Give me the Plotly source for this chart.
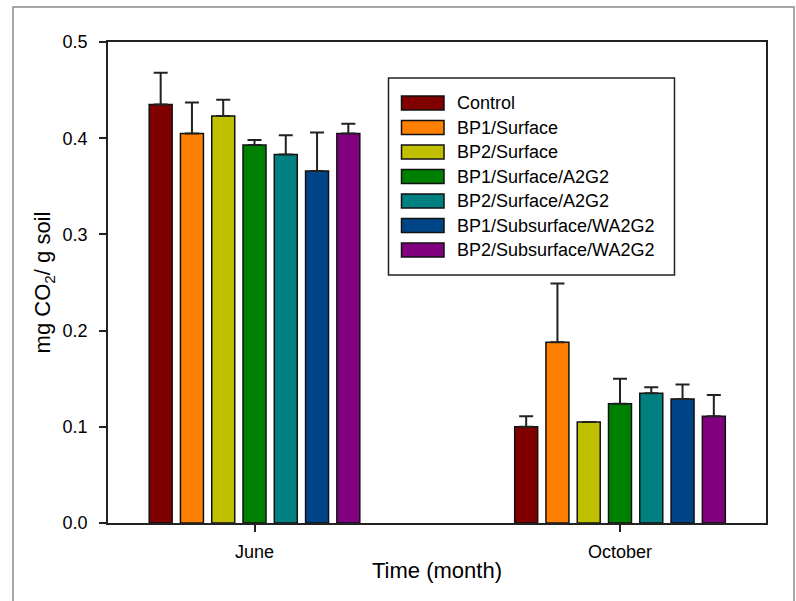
import plotly.graph_objects as go

# ---- data ----
months = ["June", "October"]
month_pos = [0, 1]
series_names = ["Control", "BP1/Surface", "BP2/Surface", "BP1/Surface/A2G2",
                "BP2/Surface/A2G2", "BP1/Subsurface/WA2G2", "BP2/Subsurface/WA2G2"]
control = [0.435, 0.100]
bp1_surface = [0.405, 0.188]
bp2_surface = [0.423, 0.105]
bp1_surface_a2g2 = [0.393, 0.124]
bp2_surface_a2g2 = [0.383, 0.135]
bp1_subsurface_wa2g2 = [0.366, 0.129]
bp2_subsurface_wa2g2 = [0.405, 0.111]
control_err = [0.033, 0.011]
bp1_surface_err = [0.032, 0.061]
bp2_surface_err = [0.017, 0.0]
bp1_surface_a2g2_err = [0.005, 0.026]
bp2_surface_a2g2_err = [0.020, 0.006]
bp1_subsurface_wa2g2_err = [0.040, 0.015]
bp2_subsurface_wa2g2_err = [0.010, 0.022]
y_ticks = [0.0, 0.1, 0.2, 0.3, 0.4, 0.5]

values = [control, bp1_surface, bp2_surface, bp1_surface_a2g2,
          bp2_surface_a2g2, bp1_subsurface_wa2g2, bp2_subsurface_wa2g2]
errors = [control_err, bp1_surface_err, bp2_surface_err, bp1_surface_a2g2_err,
          bp2_surface_a2g2_err, bp1_subsurface_wa2g2_err, bp2_subsurface_wa2g2_err]
colors = ["#800000", "#FF8000", "#C0C000", "#008000", "#008080", "#004488", "#800080"]

FONT = "Arial, Liberation Sans, sans-serif"
W, H = 796, 601
# plot area in page pixels: x 108..766, y 42..523
PL, PR, PT, PB = 108, 766, 42, 523
ML, MT = PL, PT
MR = W - PR
MB = H - PB
PW, PH = PR - PL, PB - PT
X0_PX, UNIT_PX = 254.5, 365.5  # pixel of first category centre, pixels per category

def px_x(px):
    return (px - PL) / PW

def px_y(py):
    return (PB - py) / PH

fig = go.Figure()
for name, vals, err, col in zip(series_names, values, errors, colors):
    fig.add_trace(go.Bar(
        x=month_pos, y=vals, name=name,
        marker=dict(color=col, line=dict(color="#111111", width=1.5)),
        error_y=dict(type="data", symmetric=False,
                     array=[e if e > 0 else None for e in err],
                     arrayminus=[0] * len(err),
                     color="#222222", thickness=2, width=7),
        showlegend=False,
    ))

# ---- manual legend with wide swatches ----
leg_left, leg_top, leg_right, leg_bottom = 388.5, 78, 674.5, 275
row0, row_step = 103, 24.5
fig.add_shape(type="rect", xref="paper", yref="paper",
              x0=px_x(leg_left), x1=px_x(leg_right),
              y0=px_y(leg_bottom), y1=px_y(leg_top),
              line=dict(color="#222222", width=1.5), fillcolor="white", layer="above")
for i, (name, col) in enumerate(zip(series_names, colors)):
    cy = row0 + row_step * i
    fig.add_shape(type="rect", xref="paper", yref="paper",
                  x0=px_x(401.5), x1=px_x(444),
                  y0=px_y(cy + 7), y1=px_y(cy - 7),
                  line=dict(color="#111111", width=1.5), fillcolor=col, layer="above")
    fig.add_annotation(xref="paper", yref="paper", x=px_x(455), y=px_y(cy),
                       text=name, showarrow=False, xanchor="left", yanchor="middle",
                       font=dict(family=FONT, size=18, color="black"))

# ---- outer frame ----
fig.add_shape(type="rect", xref="paper", yref="paper",
              x0=px_x(13), x1=px_x(794), y0=px_y(620), y1=px_y(7),
              line=dict(color="#8a8a8a", width=1.5), layer="below")

fig.update_layout(
    width=W, height=H,
    margin=dict(l=ML, r=MR, t=MT, b=MB, pad=0),
    paper_bgcolor="white", plot_bgcolor="white",
    barmode="group", bargap=0.401, bargroupgap=0.265,
    font=dict(family=FONT, size=18, color="black"),
    showlegend=False,
)
fig.update_xaxes(
    range=[(PL - X0_PX) / UNIT_PX, (PR - X0_PX) / UNIT_PX],
    tickvals=month_pos, ticktext=months,
    ticks="outside", ticklen=7, tickwidth=1.5, tickcolor="#222222",
    showline=True, linecolor="#222222", linewidth=1.5, mirror=True,
    showgrid=False, zeroline=False, ticklabelstandoff=5,
    tickfont=dict(family=FONT, size=18, color="black"),
    title=dict(text="Time (month)", font=dict(family=FONT, size=22, color="black"), standoff=1),
)
fig.update_yaxes(
    range=[0, 0.5], tickvals=y_ticks, tickformat=".1f",
    ticks="outside", ticklen=7, tickwidth=1.5, tickcolor="#222222",
    showline=True, linecolor="#222222", linewidth=1.5, mirror=True,
    showgrid=False, zeroline=False, ticklabelstandoff=8,
    tickfont=dict(family=FONT, size=18, color="black"),
    title=dict(text="mg CO<sub>2</sub>/ g soil", font=dict(family=FONT, size=22, color="black"), standoff=6),
)

fig.write_html("out.html", config={"displayModeBar": False},
               post_script="document.body.style.margin='0px';")
